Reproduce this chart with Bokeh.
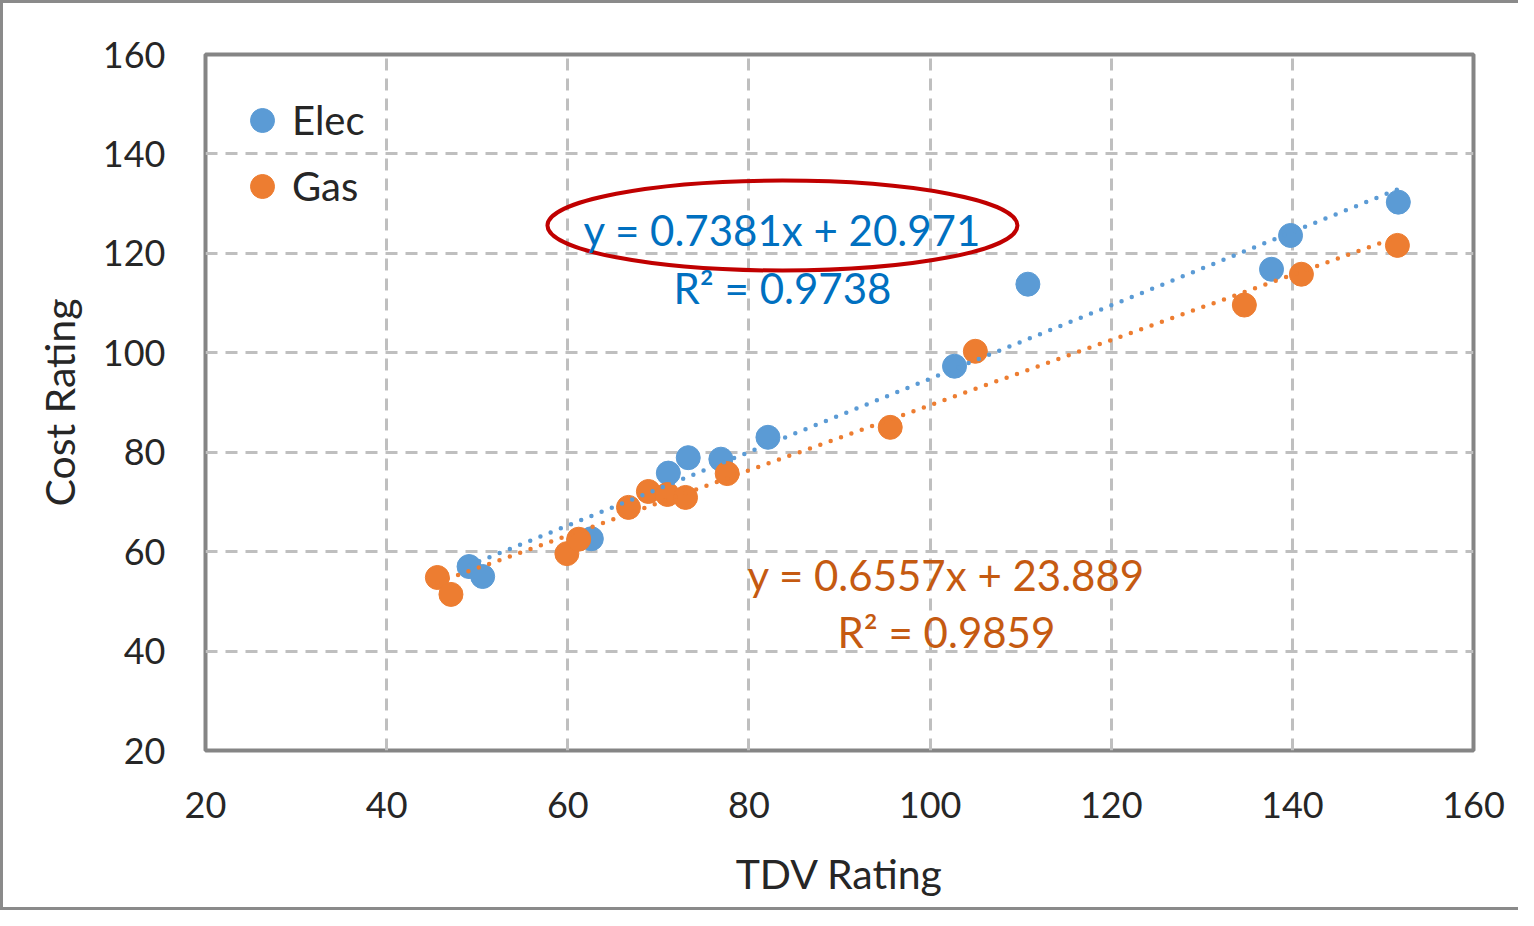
import numpy as np
from bokeh.plotting import figure
from bokeh.models import Label, Legend, LegendItem, FixedTicker, Range1d
from bokeh.embed import file_html
from bokeh.resources import INLINE
from bokeh.core.properties import value

# ---- data ----
elec_x = [49.1, 50.6, 62.6, 71.1, 73.3, 76.9, 82.1, 102.7, 110.8, 137.7, 139.8, 151.7]
elec_y = [57.0, 55.0, 62.6, 75.8, 78.9, 78.6, 83.0, 97.3, 113.8, 116.8, 123.6, 130.3]
gas_x = [45.6, 47.1, 59.9, 61.2, 66.7, 68.9, 71.0, 73.0, 77.6, 95.6, 105.0, 134.7, 141.0, 151.6]
gas_y = [54.8, 51.4, 59.6, 62.5, 68.9, 72.1, 71.5, 70.9, 75.7, 85.0, 100.3, 109.6, 115.8, 121.6]

elec_fit = [0.7381, 20.971]
gas_fit = [0.6557, 23.889]
elec_eq = ["y = 0.7381x + 20.971", "R² = 0.9738"]
gas_eq = ["y = 0.6557x + 23.889", "R² = 0.9859"]

ticks = [20, 40, 60, 80, 100, 120, 140, 160]

BLUE = "#5B9BD5"
ORANGE = "#ED7D31"
BLUE_TXT = "#0070C0"
ORANGE_TXT = "#C55A11"
FONT = "Lato"

p = figure(width=1518, height=910, output_backend="svg", toolbar_location=None,
           x_range=Range1d(20, 160), y_range=Range1d(20, 160),
           min_border_left=202, min_border_right=48, min_border_top=51, min_border_bottom=163)
p.styles = {"border-left": "3px solid #8a8a8a", "border-top": "3px solid #8a8a8a",
            "border-bottom": "3px solid #8a8a8a", "box-sizing": "border-box"}

p.background_fill_color = "white"
p.outline_line_color = "#858585"
p.outline_line_width = 4

for ax in (p.xaxis[0], p.yaxis[0]):
    ax.ticker = FixedTicker(ticks=ticks)
    ax.axis_line_color = None
    ax.major_tick_line_color = None
    ax.minor_tick_line_color = None
    ax.major_label_text_font = FONT
    ax.major_label_text_font_size = "36px"
    ax.major_label_text_color = "#262626"
    ax.axis_label_text_font = FONT
    ax.axis_label_text_font_size = "41px"
    ax.axis_label_text_font_style = "normal"
    ax.axis_label_text_color = "#262626"

p.xaxis.axis_label = "TDV Rating"
p.yaxis.axis_label = "Cost Rating"
p.xaxis.major_label_standoff = 35
p.yaxis.major_label_standoff = 34
p.xaxis.axis_label_standoff = 28
p.yaxis.axis_label_standoff = 16

p.grid.grid_line_color = "#BFBFBF"
p.grid.grid_line_width = 3
p.grid.grid_line_dash = "12 8"

r_elec = p.scatter(elec_x, elec_y, size=24, color=BLUE, line_color=BLUE)
r_gas = p.scatter(gas_x, gas_y, size=24, color=ORANGE, line_color=ORANGE)

ex = np.array([min(elec_x), max(elec_x)])
gx = np.array([min(gas_x), max(gas_x)])
p.line(ex, elec_fit[0] * ex + elec_fit[1], line_color=BLUE, line_width=4.5,
       line_dash="0 11", line_cap="round")
p.line(gx, gas_fit[0] * gx + gas_fit[1], line_color=ORANGE, line_width=4.5,
       line_dash="0 11", line_cap="round")

# equation labels
def add_label(x, y, text, color):
    p.add_layout(Label(x=x, y=y, text=text, text_font=FONT, text_font_size="42px",
                       text_color=color, text_align="center", text_baseline="middle"))

add_label(83.7, 124.6, elec_eq[0], BLUE_TXT)
add_label(83.7, 113.0, elec_eq[1], BLUE_TXT)
add_label(101.8, 55.4, gas_eq[0], ORANGE_TXT)
add_label(101.8, 43.9, gas_eq[1], ORANGE_TXT)

# red ellipse highlight
p.ellipse(x=[83.7], y=[125.6], width=470, height=90, width_units="screen",
          height_units="screen", fill_alpha=0, line_color="#C00000", line_width=4)

legend = Legend(items=[LegendItem(label="Elec", renderers=[r_elec]),
                       LegendItem(label="Gas", renderers=[r_gas])],
                location=(27, 534), padding=0, margin=0, spacing=6,
                glyph_width=60, glyph_height=60, label_standoff=-4,
                label_text_font=FONT, label_text_font_size="40px",
                label_text_color="#262626",
                border_line_alpha=0, background_fill_alpha=0)
p.add_layout(legend)

open("out.html", "w").write(file_html(p, INLINE))
